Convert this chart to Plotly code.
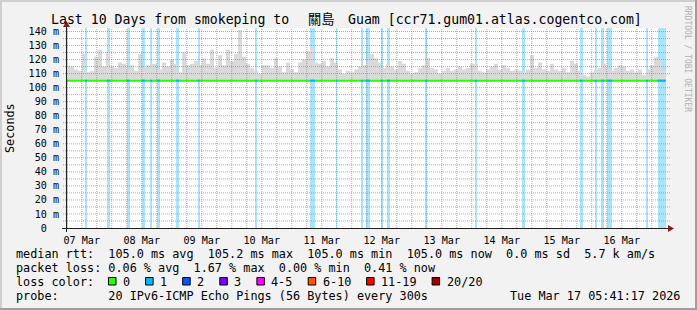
import plotly.graph_objects as go
from datetime import datetime, timedelta

# ---------------- data ----------------
END_TIME = datetime(2026, 3, 17, 5, 41, 17)
START_TIME = END_TIME - timedelta(days=10)
SLOT_MINUTES = 96  # one smoke column = 96 minutes

# max ping of each slot (ms)
smoke_max_ms = [
    116, 115, 113, 112, 124, 111, 112, 122, 127, 115,
    126, 115, 114, 118, 117, 113, 116, 112, 124, 114,
    116, 117, 117, 113, 118, 115, 120, 117, 111, 125,
    116, 117, 119, 116, 121, 117, 127, 114, 123, 116,
    127, 119, 124, 141, 122, 117, 114, 112, 110, 116,
    116, 114, 121, 115, 111, 118, 113, 111, 118, 120,
    126, 129, 118, 117, 119, 115, 121, 118, 113, 110,
    112, 111, 113, 115, 116, 119, 124, 121, 118, 114,
    117, 115, 113, 119, 117, 112, 110, 111, 114, 116,
    121, 114, 113, 110, 112, 114, 112, 113, 115, 113,
    114, 117, 117, 112, 111, 113, 115, 117, 113, 116,
    114, 112, 113, 112, 111, 113, 123, 114, 118, 113,
    112, 117, 113, 112, 114, 111, 119, 117, 112, 109,
    108, 111, 113, 114, 117, 114, 112, 114, 116, 115,
    112, 113, 111, 113, 109, 113, 116, 122, 120, 112,
]
min_rtt_ms = 105.0
median_hours = [0, 240]
median_ms = [105.0, 105.0]

# periods with 1/20 packet loss (hours after start)
loss_start_h = [0.0, 7.6, 16.4, 24.4, 30.4, 33.6, 36.4, 44.0, 52.6, 75.6,
                97.6, 108.0, 118.0, 119.8, 126.0, 128.4, 143.6, 163.6, 182.4,
                205.6, 211.6, 214.0, 216.4, 232.0, 236.6]
loss_end_h = [0.8, 8.4, 17.6, 25.4, 31.6, 34.4, 37.6, 45.2, 53.6, 76.4,
              99.6, 108.4, 118.8, 121.6, 126.6, 129.6, 144.4, 164.4, 183.4,
              206.6, 212.4, 215.2, 218.4, 232.8, 240.0]
loss_count = [1, 1, 1, 1, 1, 1, 1, 1, 1, 1, 1, 1, 1, 1, 1, 1, 1, 1, 1,
              1, 1, 1, 1, 1, 1]

loss_labels = ["0", "1", "2", "3", "4-5", "6-10", "11-19", "20/20"]
loss_colors = ["#26ff00", "#00b8ff", "#0059ff", "#7e00ff", "#ff00ff",
               "#ff5500", "#ff0000", "#a10000"]
loss_bg_colors = ["#ffffff", "#aae4fb", "#a3c5ff", "#cfa3ff", "#ffa3ff",
                  "#ffc2a3", "#ffa3a3", "#e0a3a3"]

day_labels = ["07 Mar", "08 Mar", "09 Mar", "10 Mar", "11 Mar",
              "12 Mar", "13 Mar", "14 Mar", "15 Mar", "16 Mar"]
y_tick_vals = [0, 10, 20, 30, 40, 50, 60, 70, 80, 90, 100, 110, 120, 130, 140]
y_tick_text = ["0\u00a0\u00a0", "10 m", "20 m", "30 m", "40 m", "50 m", "60 m",
               "70 m", "80 m", "90 m", "100 m", "110 m", "120 m", "130 m",
               "140 m"]

legend_line1 = "median rtt:  105.0 ms avg  105.2 ms max  105.0 ms min  105.0 ms now  0.0 ms sd  5.7 k am/s"
legend_line2 = "packet loss: 0.06 % avg  1.67 % max  0.00 % min  0.41 % now"
legend_line4 = "probe:       20 IPv6-ICMP Echo Pings (56 Bytes) every 300s"
legend_date = "Tue Mar 17 05:41:17 2026"
title_a = "Last 10 Days from smokeping to"
title_b = "關島"
title_c = "Guam [ccr71.gum01.atlas.cogentco.com]"

# ---------------- geometry ----------------
W, H = 697, 310
PL, PR, PT, PB = 66, 666, 28, 228
Y_TOP = 142.5
MONO = "DejaVu Sans Mono, Noto Sans CJK TC, monospace"


def xp(px):
    return (px - PL) / (PR - PL)


def yp(py):
    return (PB - py) / (PB - PT)


def t_at(hours):
    return START_TIME + timedelta(hours=hours)


fig = go.Figure()

# loss background bands
band_x = [t_at((s + e) / 2) for s, e in zip(loss_start_h, loss_end_h)]
band_w = [(e - s) * 3600 * 1000 for s, e in zip(loss_start_h, loss_end_h)]
fig.add_trace(go.Bar(
    x=band_x, y=[Y_TOP] * len(band_x), base=0, width=band_w,
    marker=dict(color=[loss_bg_colors[c] for c in loss_count], line=dict(width=0)),
    hoverinfo="skip", showlegend=False))

# smoke: filled step area from min rtt up to the max ping of each slot
edges = [START_TIME + timedelta(minutes=SLOT_MINUTES * i) for i in range(len(smoke_max_ms) + 1)]
fig.add_trace(go.Scatter(
    x=[edges[0], edges[-1]], y=[min_rtt_ms, min_rtt_ms], mode="lines",
    line=dict(color="rgba(0,0,0,0)", width=0), hoverinfo="skip", showlegend=False))
fig.add_trace(go.Scatter(
    x=edges, y=smoke_max_ms + [smoke_max_ms[-1]], mode="lines",
    line=dict(color="rgba(0,0,0,0)", width=0, shape="hv"),
    fill="tonexty", fillcolor="#dadada", hoverinfo="skip", showlegend=False))

# median line (green = no loss)
fig.add_trace(go.Scatter(
    x=[t_at(h) for h in median_hours], y=median_ms, mode="lines",
    line=dict(color=loss_colors[0], width=2), hoverinfo="skip", showlegend=False))

# median line segments colored by loss
seg_x, seg_y = [], []
for s, e in zip(loss_start_h, loss_end_h):
    seg_x += [t_at(s), t_at(e), None]
    seg_y += [median_ms[0], median_ms[0], None]
fig.add_trace(go.Scatter(
    x=seg_x, y=seg_y, mode="lines",
    line=dict(color=loss_colors[1], width=2), hoverinfo="skip", showlegend=False))

shapes = []
GRID = "rgba(143,143,143,0.75)"
MGRID = "rgba(222,79,79,0.6)"
DASH = "1px,1px"

# vertical grid
t = datetime(START_TIME.year, START_TIME.month, START_TIME.day) + timedelta(hours=6)
while t < END_TIME:
    major = (t.hour == 0)
    shapes.append(dict(type="line", xref="x", yref="paper", x0=t, x1=t,
                       y0=0, y1=1, layer="above",
                       line=dict(color=MGRID if major else GRID, width=1, dash=DASH)))
    t += timedelta(hours=6)

# horizontal grid
for v in range(5, 142, 5):
    if v == median_ms[0]:
        continue
    major = (v % 10 == 0)
    shapes.append(dict(type="line", xref="paper", yref="y", x0=xp(PL - 3), x1=xp(PR + 4),
                       y0=v, y1=v, layer="above",
                       line=dict(color=MGRID if major else GRID, width=1, dash=DASH)))

# axes with arrows
AX = "#1f1f1f"
ARROW = "#801f1f"
shapes.append(dict(type="line", xref="paper", yref="paper", x0=xp(62), x1=xp(670),
                   y0=yp(228.5), y1=yp(228.5), line=dict(color=AX, width=1), layer="above"))
shapes.append(dict(type="line", xref="paper", yref="paper", x0=xp(66.5), x1=xp(66.5),
                   y0=yp(232), y1=yp(26), line=dict(color=AX, width=1), layer="above"))
shapes.append(dict(type="path", xref="paper", yref="paper",
                   path=f"M {xp(668)} {yp(225)} L {xp(668)} {yp(232)} L {xp(674)} {yp(228.5)} Z",
                   fillcolor=ARROW, line=dict(width=0), layer="above"))
shapes.append(dict(type="path", xref="paper", yref="paper",
                   path=f"M {xp(63)} {yp(27)} L {xp(70)} {yp(27)} L {xp(66.5)} {yp(21)} Z",
                   fillcolor=ARROW, line=dict(width=0), layer="above"))

# 3D frame
shapes.append(dict(type="line", xref="paper", yref="paper", x0=xp(0), x1=xp(W),
                   y0=yp(1), y1=yp(1), line=dict(color="#cfcfcf", width=2)))
shapes.append(dict(type="line", xref="paper", yref="paper", x0=xp(1), x1=xp(1),
                   y0=yp(0), y1=yp(H), line=dict(color="#cfcfcf", width=2)))
shapes.append(dict(type="line", xref="paper", yref="paper", x0=xp(0), x1=xp(W),
                   y0=yp(H - 1), y1=yp(H - 1), line=dict(color="#9e9e9e", width=2)))
shapes.append(dict(type="line", xref="paper", yref="paper", x0=xp(W - 1), x1=xp(W - 1),
                   y0=yp(0), y1=yp(H), line=dict(color="#9e9e9e", width=2)))

annotations = []
LEG = 11.8


def ann(text, x, y, size, xanchor="left", color="#000000", angle=0):
    annotations.append(dict(
        text=text.replace(" ", "\u00a0"), x=xp(x), y=yp(y), xref="paper", yref="paper",
        xanchor=xanchor, yanchor="middle", showarrow=False, textangle=angle,
        borderpad=0, borderwidth=0,
        font=dict(family=MONO, size=size, color=color)))


ann(title_a, 51, 19, 13.2)
ann(title_b, 321, 19, 13.2, xanchor="center")
ann(title_c, 347.5, 19, 13.2)
ann("Seconds", 10, 128, LEG, xanchor="center", angle=-90)
ann("RRDTOOL / TOBI OETIKER", 688, 59, 8.0, xanchor="center", color="#b0b0b0", angle=90)
ann(legend_line1, 16, 254, LEG)
ann(legend_line2, 16, 268, LEG)
ann("loss color:", 16, 282, LEG)
ann(legend_line4, 16, 296, LEG)
ann(legend_date, 680, 296, LEG, xanchor="right")

CW = 7.1
bx = 108.5
for lab, col in zip(loss_labels, loss_colors):
    shapes.append(dict(type="rect", xref="paper", yref="paper",
                       x0=xp(bx), x1=xp(bx + 7.5), y0=yp(277.5), y1=yp(285),
                       fillcolor=col, line=dict(color="#000000", width=1)))
    ann(lab, bx + 14.5, 282, LEG)
    bx += 14.5 + len(lab) * CW + 15.5

fig.update_layout(
    width=W, height=H,
    margin=dict(l=PL, r=W - PR, t=PT, b=H - PB, pad=0),
    paper_bgcolor="#f2f2f2", plot_bgcolor="#ffffff",
    barmode="overlay", bargap=0,
    showlegend=False,
    shapes=shapes, annotations=annotations,
    xaxis=dict(type="date", range=[START_TIME, END_TIME], showgrid=False,
               zeroline=False, showline=False, ticks="",
               tickmode="array",
               tickvals=[datetime(2026, 3, 7, 12) + timedelta(days=i) for i in range(len(day_labels))],
               ticktext=day_labels, ticklabelstandoff=5,
               tickfont=dict(family=MONO, size=10.1, color="#000000"),
               fixedrange=True),
    yaxis=dict(range=[0, Y_TOP], showgrid=False, zeroline=False, showline=False,
               ticks="", tickmode="array", tickvals=y_tick_vals, ticktext=y_tick_text,
               ticklabelstandoff=6,
               tickfont=dict(family=MONO, size=10.1, color="#000000"),
               fixedrange=True),
)

fig.write_html("out.html")
